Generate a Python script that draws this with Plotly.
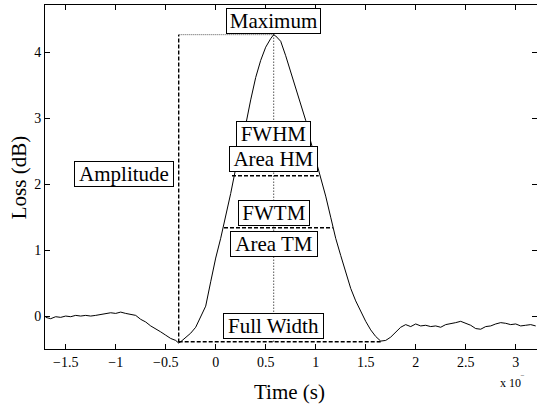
import plotly.graph_objects as go

# ---- data (time in units of the axis multiplier, loss in dB)
time = [-1.70, -1.65, -1.60, -1.55, -1.50, -1.45, -1.40, -1.35, -1.30, -1.25,
        -1.20, -1.15, -1.10, -1.05, -1.00, -0.95, -0.90, -0.85, -0.80, -0.75,
        -0.70, -0.65, -0.60, -0.55, -0.50, -0.45, -0.40, -0.37, -0.35, -0.30,
        -0.25, -0.20, -0.15, -0.10, -0.05, 0.00, 0.05, 0.10, 0.15, 0.20,
        0.25, 0.30, 0.35, 0.40, 0.45, 0.50, 0.55, 0.58, 0.60, 0.65,
        0.70, 0.75, 0.80, 0.85, 0.90, 0.95, 1.00, 1.05, 1.10, 1.15,
        1.20, 1.25, 1.30, 1.35, 1.40, 1.45, 1.50, 1.55, 1.60, 1.65,
        1.70, 1.75, 1.80, 1.85, 1.90, 1.95, 2.00, 2.05, 2.10, 2.15,
        2.20, 2.25, 2.30, 2.35, 2.40, 2.45, 2.50, 2.55, 2.60, 2.65,
        2.70, 2.75, 2.80, 2.85, 2.90, 2.95, 3.00, 3.05, 3.10, 3.15, 3.20]
loss = [-0.02, -0.04, -0.01, -0.02, 0.00, -0.01, 0.01, 0.00, 0.01, 0.00,
        0.01, 0.02, 0.03, 0.05, 0.04, 0.06, 0.04, 0.02, 0.01, -0.05,
        -0.09, -0.15, -0.19, -0.24, -0.29, -0.34, -0.37, -0.41, -0.39, -0.33,
        -0.26, -0.17, -0.02, 0.15, 0.52, 0.88, 1.18, 1.50, 1.86, 2.24,
        2.55, 2.90, 3.28, 3.62, 3.88, 4.08, 4.21, 4.27, 4.25, 4.17,
        3.95, 3.71, 3.45, 3.21, 2.97, 2.65, 2.37, 2.12, 1.82, 1.50,
        1.18, 0.92, 0.66, 0.42, 0.23, 0.07, -0.08, -0.21, -0.31, -0.38,
        -0.37, -0.32, -0.24, -0.17, -0.13, -0.16, -0.12, -0.15, -0.14, -0.16,
        -0.15, -0.17, -0.13, -0.12, -0.10, -0.08, -0.11, -0.14, -0.19, -0.20,
        -0.16, -0.15, -0.12, -0.10, -0.11, -0.13, -0.12, -0.15, -0.14, -0.13, -0.15]

# feature markers
t_start, v_min = -0.37, -0.40
t_peak, v_peak = 0.58, 4.27
t_end, v_fw = 1.65, -0.39
hm_level, hm_left, hm_right = 2.13, 0.163, 1.03
tm_level, tm_left, tm_right = 1.34, 0.083, 1.17

labels = ["Maximum", "FWHM", "Area HM", "FWTM", "Area TM", "Full Width"]
x_tick_vals = [-1.5, -1, -0.5, 0, 0.5, 1, 1.5, 2, 2.5, 3]
y_tick_vals = [0, 1, 2, 3, 4]

FONT = "Liberation Serif, Times New Roman, serif"
fig = go.Figure()

def line(xs, ys, dash, color="black", width=1):
    fig.add_trace(go.Scatter(x=xs, y=ys, mode="lines",
                             line=dict(color=color, width=width, dash=dash),
                             hoverinfo="skip", showlegend=False))

line([t_start, t_peak], [v_peak, v_peak], "1px,1px", color="#555555")
line([t_peak, t_peak], [v_peak, v_fw], "1px,2px")
line([t_start, t_start], [v_min, v_peak], "4px,2px", width=1.4)
line([hm_left, hm_right], [hm_level, hm_level], "4px,2px", width=1.4)
line([tm_left, tm_right], [tm_level, tm_level], "4px,2px", width=1.4)
line([t_start, t_end], [v_fw, v_fw], "4px,2px", width=1.4)

fig.add_trace(go.Scatter(x=time, y=loss, mode="lines",
                         line=dict(color="black", width=1),
                         hoverinfo="skip", showlegend=False))

label_y = [4.47, 2.76, 2.38, 1.56, 1.10, -0.15]
label_w = [93, 73, 87, 70, 86, 99]
anns = []
for txt, yy, w in zip(labels, label_y, label_w):
    anns.append(dict(x=t_peak, y=yy, xref="x", yref="y", text=txt, showarrow=False,
                     font=dict(family=FONT, size=21, color="black"),
                     bgcolor="white", bordercolor="black", borderwidth=1,
                     borderpad=0, width=w, xanchor="center", yanchor="middle"))
anns.append(dict(x=-0.92, y=2.16, xref="x", yref="y", text="Amplitude", showarrow=False,
                 font=dict(family=FONT, size=21, color="black"),
                 bgcolor="white", bordercolor="black", borderwidth=1,
                 borderpad=0, width=98, xanchor="center", yanchor="middle"))
# axis titles and exponent note, placed in paper coordinates
anns.append(dict(x=0.497, y=-0.125, xref="paper", yref="paper", text="Time (s)",
                 showarrow=False, font=dict(family=FONT, size=21, color="black"),
                 xanchor="center", yanchor="middle"))
anns.append(dict(x=-0.053, y=0.499, xref="paper", yref="paper", text="Loss (dB)",
                 showarrow=False, textangle=-90,
                 font=dict(family=FONT, size=21, color="black"),
                 xanchor="center", yanchor="middle"))
anns.append(dict(x=0.921, y=-0.096, xref="paper", yref="paper", text="x 10<sup>‾</sup>",
                 showarrow=False, font=dict(family=FONT, size=12, color="black"),
                 xanchor="left", yanchor="middle"))

axis_common = dict(showline=True, linecolor="black", linewidth=1, mirror="ticks",
                   ticks="inside", ticklen=5, tickcolor="black", showgrid=False,
                   zeroline=False, automargin=False,
                   tickfont=dict(family=FONT, size=14, color="black"))

fig.update_layout(
    width=537, height=406,
    margin=dict(l=45, r=0, t=5, b=57),
    paper_bgcolor="white", plot_bgcolor="white",
    annotations=anns,
    hovermode=False,
    xaxis=dict(range=[-1.707, 3.213], tickvals=x_tick_vals, **axis_common),
    yaxis=dict(range=[-0.5, 4.72], tickvals=y_tick_vals, **axis_common),
)

fig.write_html("out.html", config={"displayModeBar": False},
               post_script="document.body.style.margin='0';document.body.style.overflow='hidden';")
